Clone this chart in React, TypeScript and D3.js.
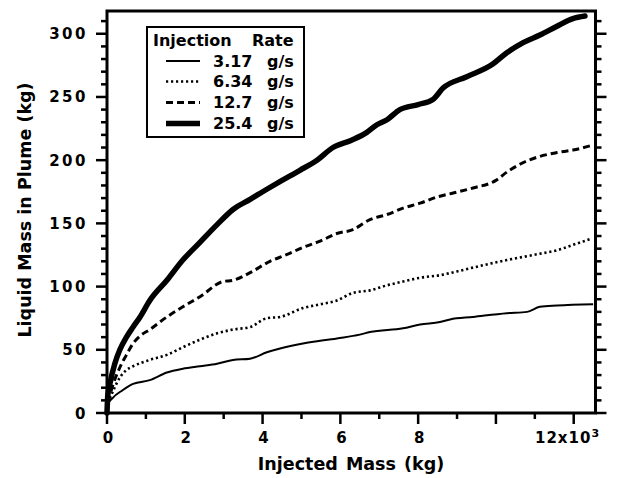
import React from "react";
import * as d3 from "d3";

// Injected mass in 10^3 kg, liquid mass in plume in kg
const rate317X = [0, 0.03, 0.15, 0.4, 0.67, 1.1, 1.54, 1.95, 2.39, 2.83, 3.24, 3.68, 4.11, 4.45, 5.04, 5.91, 6.5, 6.76, 7.61, 8.05, 8.56, 8.82, 9.41, 10.28, 10.8, 11.13, 11.57, 12.5];
const rate317Y = [0, 7, 12, 18, 23, 26, 32, 35, 37, 39, 42, 43, 48, 51, 55, 59, 62, 64, 67, 70, 72, 74, 76, 79, 80, 84, 85, 86];

const rate634X = [0, 0.03, 0.08, 0.15, 0.33, 0.5, 0.67, 1.1, 1.54, 1.95, 2.39, 2.83, 3.24, 3.68, 4.11, 4.45, 5.04, 5.48, 5.91, 6.32, 6.76, 7.2, 7.61, 8.05, 8.56, 9.0, 9.41, 10.28, 11.13, 11.6, 11.98, 12.47];
const rate634Y = [0, 8, 12, 17, 28, 34, 37, 42, 46, 52, 58, 63, 66, 68, 75, 76, 83, 86, 89, 95, 97, 101, 104, 107, 109, 112, 115, 121, 126, 129, 133, 138];

const rate127X = [0, 0.03, 0.08, 0.15, 0.33, 0.5, 0.67, 0.85, 1.1, 1.54, 1.95, 2.39, 2.98, 3.24, 3.68, 4.19, 4.6, 5.04, 5.48, 5.91, 6.32, 6.76, 7.2, 7.61, 8.05, 8.5, 8.9, 9.41, 10.0, 10.3, 10.7, 11.13, 11.57, 11.98, 12.5];
const rate127Y = [0, 10, 15, 22, 36, 46, 55, 61, 66, 76, 84, 92, 104, 105, 111, 120, 125, 131, 136, 142, 145, 153, 157, 162, 166, 171, 174, 178, 184, 191, 198, 203, 206, 208, 212];

const rate254X = [0, 0.02, 0.08, 0.2, 0.33, 0.5, 0.67, 0.85, 1.1, 1.54, 1.95, 2.39, 2.83, 3.24, 3.68, 4.11, 4.5, 4.96, 5.4, 5.81, 6.3, 6.68, 6.94, 7.2, 7.53, 8.0, 8.38, 8.64, 9.25, 9.92, 10.28, 10.7, 11.13, 11.57, 11.98, 12.29];
const rate254Y = [0, 14, 24, 39, 50, 60, 68, 76, 89, 105, 121, 135, 149, 161, 169, 177, 184, 192, 200, 210, 216, 222, 228, 232, 240, 244, 248, 257, 266, 276, 285, 293, 299, 306, 312, 314];

const legendRates = ["3.17", "6.34", "12.7", "25.4"];
const xTickValues = [0, 2, 4, 6, 8, 10, 12];
const xTickLabels = ["0", "2", "4", "6", "8", "", "12x10"];
const xMinorTicks = [1, 3, 5, 7, 9, 11];
const yTickValues = [0, 50, 100, 150, 200, 250, 300];
const yMinorTicks = d3.range(0, 320, 10).filter((v) => v % 50 !== 0);

const seriesStyles = [
  { width: 2, dash: "none" },
  { width: 2.6, dash: "2.2,2.8" },
  { width: 3, dash: "7,4" },
  { width: 5.5, dash: "none" },
];

const FONT = "'DejaVu Sans', Verdana, sans-serif";

export default function App() {
  const W = 617, H = 478;
  const left = 107, right = 595.5, top = 11, bottom = 413;
  const x = d3.scaleLinear().domain([0, 12.56]).range([left, right]);
  const y = d3.scaleLinear().domain([0, 318]).range([bottom, top]);

  const series = [
    d3.zip(rate317X, rate317Y),
    d3.zip(rate634X, rate634Y),
    d3.zip(rate127X, rate127Y),
    d3.zip(rate254X, rate254Y),
  ] as [number, number][][];

  const line = d3
    .line<[number, number]>()
    .curve(d3.curveMonotoneX)
    .x((d) => x(d[0]))
    .y((d) => y(d[1]));

  const legendX = 147, legendY = 27, legendW = 157, legendH = 110;
  const rowY = [61, 81.5, 102.5, 123.5];

  return (
    <svg width={W} height={H} style={{ position: "absolute", left: 0, top: 0, background: "#fff" }}>
      <rect x={0} y={0} width={W} height={H} fill="#fff" />
      {/* data lines */}
      <g fill="none" stroke="#000" strokeLinejoin="round">
        {series.map((s, i) => (
          <path
            key={i}
            d={line(s) || ""}
            strokeWidth={seriesStyles[i].width}
            strokeDasharray={seriesStyles[i].dash}
            strokeLinecap={i === 3 ? "round" : "butt"}
          />
        ))}
      </g>

      {/* frame */}
      <rect x={left} y={top} width={right - left} height={bottom - top} fill="none" stroke="#000" strokeWidth={3} />

      {/* ticks */}
      <g stroke="#000" strokeWidth={2.5}>
        {xTickValues.map((v) => (
          <line key={"xm" + v} x1={x(v)} x2={x(v)} y1={bottom} y2={bottom + 11} />
        ))}
        {xMinorTicks.map((v) => (
          <line key={"xn" + v} x1={x(v)} x2={x(v)} y1={bottom} y2={bottom + 6} />
        ))}
        {yTickValues.map((v) => (
          <line key={"ym" + v} x1={left - 11} x2={left} y1={y(v)} y2={y(v)} />
        ))}
        {yMinorTicks.map((v) => (
          <line key={"yn" + v} x1={left - 6} x2={left} y1={y(v)} y2={y(v)} />
        ))}
        {yTickValues.map((v) => (
          <line key={"rm" + v} x1={right} x2={right + 11} y1={y(v)} y2={y(v)} />
        ))}
        {yMinorTicks.map((v) => (
          <line key={"rn" + v} x1={right} x2={right + 6} y1={y(v)} y2={y(v)} />
        ))}
      </g>

      {/* tick labels */}
      <g fontFamily={FONT} fontWeight="bold" fontSize={15} fill="#000">
        {yTickValues.map((v) => (
          <text key={"yl" + v} x={88} y={y(v) + 5.5} textAnchor="end" letterSpacing={2.5}>
            {String(v)}
          </text>
        ))}
        {xTickValues.map((v, i) =>
          xTickLabels[i] === "" ? null : i === xTickValues.length - 1 ? (
            <text key={"xl" + v} x={535} y={443} textAnchor="start" letterSpacing={1}>
              {xTickLabels[i]}
              <tspan fontSize={11} dy={-6}>3</tspan>
            </text>
          ) : (
            <text key={"xl" + v} x={x(v) + 1} y={443} textAnchor="middle">
              {xTickLabels[i]}
            </text>
          )
        )}
      </g>

      {/* axis titles */}
      <text x={351} y={470} textAnchor="middle" fontFamily={FONT} fontWeight="bold" fontSize={17.5} wordSpacing={2}>
        Injected Mass (kg)
      </text>
      <text
        transform={`translate(31,210) rotate(-90)`}
        textAnchor="middle"
        fontFamily={FONT}
        fontWeight="bold"
        fontSize={17.5}
      >
        Liquid Mass in Plume (kg)
      </text>

      {/* legend */}
      <rect x={legendX} y={legendY} width={legendW} height={legendH} fill="#fff" stroke="#000" strokeWidth={2} />
      <g fontFamily={FONT} fontWeight="bold" fontSize={16} fill="#000">
        <text x={153} y={46}>Injection</text>
        <text x={252} y={46}>Rate</text>
        {legendRates.map((r, i) => (
          <g key={r}>
            <line
              x1={166}
              x2={200}
              y1={rowY[i]}
              y2={rowY[i]}
              stroke="#000"
              strokeWidth={seriesStyles[i].width}
              strokeDasharray={seriesStyles[i].dash}
            />
            <text x={213} y={rowY[i] + 5.5}>{r}</text>
            <text x={267} y={rowY[i] + 5.5}>g/s</text>
          </g>
        ))}
      </g>
    </svg>
  );
}
